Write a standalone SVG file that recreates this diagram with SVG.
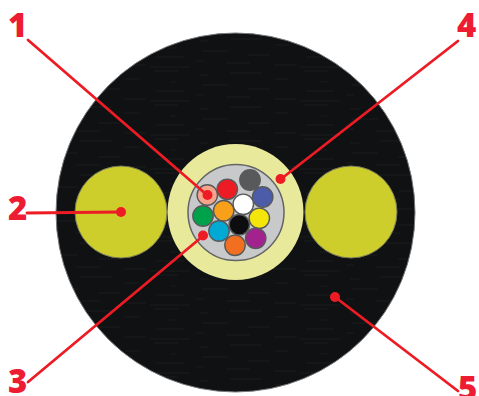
<svg xmlns="http://www.w3.org/2000/svg" width="479" height="396" viewBox="0 0 479 396">
<style>
.lbl{font-family:"Open Sans","Liberation Sans",sans-serif;font-weight:800;font-size:33px;fill:#ed1c33}
.f{stroke:#58595b;stroke-width:1.4}
.ln{stroke:#ed1c24;stroke-width:2.8;fill:none;stroke-linecap:round}
.dot{fill:#ed1c24}
.str{stroke:#fff;stroke-opacity:.06;stroke-width:.7}
</style>
<defs>
<pattern id="tex" width="150" height="34" patternUnits="userSpaceOnUse">
<path class="str" d="M4 3h24M50 7h9M80 5h32M125 11h14M20 14h7M52 17h26M98 21h22M6 23h28M46 27h8M76 29h24M124 31h22M0 33h40"/>
</pattern>
</defs>
<rect width="479" height="396" fill="#fff"/>
<g id="cable">
<circle cx="235.5" cy="212.5" r="179.5" fill="#101113" stroke="#77787a" stroke-width="1"/>
<circle cx="235.5" cy="212.5" r="179" fill="url(#tex)"/>
</g>
<g id="strength-left"><circle cx="121" cy="212" r="46" fill="#cdcd2b" stroke="#77785e" stroke-width="1"/></g>
<g id="strength-right"><circle cx="351" cy="212" r="46" fill="#cdcd2b" stroke="#77785e" stroke-width="1"/></g>
<g id="jacket"><circle cx="235.5" cy="212" r="68" fill="#e9e99b"/></g>
<g id="tube"><circle cx="236" cy="212.5" r="48" fill="#c8c9cb" stroke="#636466" stroke-width="1.5"/></g>
<g id="fibers">
<circle class="f" cx="250" cy="180" r="10.2" fill="#58595b"/>
<circle class="f" cx="227.3" cy="189.3" r="10.2" fill="#ed1c24"/>
<circle class="f" cx="207.3" cy="195" r="10.2" fill="#f6a58c"/>
<circle class="f" cx="262.7" cy="197" r="10.2" fill="#4c5ca8"/>
<circle class="f" cx="243.3" cy="204.3" r="10.2" fill="#fff"/>
<circle class="f" cx="223.7" cy="210.7" r="10.2" fill="#f9a01b"/>
<circle class="f" cx="203" cy="216" r="10.2" fill="#00a14b"/>
<circle class="f" cx="259.3" cy="218.3" r="10.2" fill="#f4e50a"/>
<circle class="f" cx="239.3" cy="224.7" r="10.2" fill="#0d0d0f"/>
<circle class="f" cx="219" cy="231" r="10.2" fill="#00aad4"/>
<circle class="f" cx="255.7" cy="238.3" r="10.2" fill="#a3238e"/>
<circle class="f" cx="235" cy="245.3" r="10.2" fill="#f26f21"/>
</g>
<g id="connectors">
<path class="ln" d="M28 40L207 195"/>
<path class="ln" d="M27 213L121 212"/>
<path class="ln" d="M28 382L203 236"/>
<path class="ln" d="M458 41L281 179"/>
<path class="ln" d="M335 297L458 391"/>
<circle class="dot" cx="207.5" cy="195" r="5"/>
<circle class="dot" cx="121" cy="212" r="5"/>
<circle class="dot" cx="203" cy="235.5" r="5"/>
<circle class="dot" cx="280.5" cy="179" r="5"/>
<circle class="dot" cx="335" cy="297" r="5"/>
</g>
<g id="labels">
<text class="lbl" x="8" y="37">1</text>
<text class="lbl" x="8" y="220">2</text>
<text class="lbl" x="8" y="393">3</text>
<text class="lbl" x="457" y="37">4</text>
<text class="lbl" x="458" y="400">5</text>
</g>
</svg>
